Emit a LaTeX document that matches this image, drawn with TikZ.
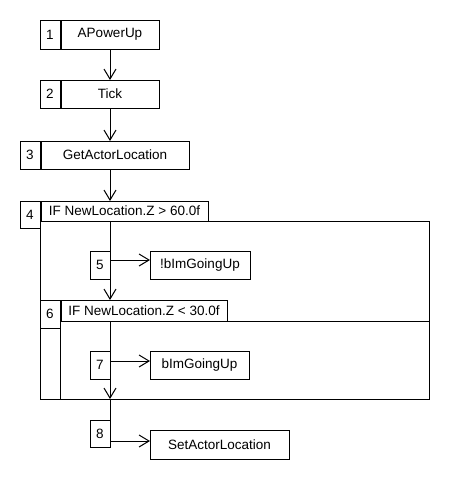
\documentclass[tikz,border=0pt]{standalone}
\usepackage{fontspec}
\setmainfont{Liberation Sans}
\usetikzlibrary{arrows.meta}

\tikzset{
  box/.style 2 args={draw, line width=1pt, anchor=north west, inner sep=0pt,
    outer sep=0pt, minimum width=#1, minimum height=#2},
  flow/.style={line width=1pt, -{Straight Barb[length=10pt, width=12pt]}},
  link/.style={line width=1pt},
}

\begin{document}
\begin{tikzpicture}[x=1pt, y=-1pt, font=\fontsize{13.5}{15}\selectfont]
\useasboundingbox (0,0) rectangle (450,480);

% Steps 1 to 3
\node[box={20pt}{29pt}] (n1) at (40,20) {1};
\node[box={98pt}{29pt}] (l1) at (61,20) {APowerUp};
\node[box={20pt}{28pt}] (n2) at (40,80) {2};
\node[box={98pt}{28pt}] (l2) at (61,80) {Tick};
\node[box={20pt}{28pt}] (n3) at (20,141) {3};
\node[box={148pt}{28pt}] (l3) at (41,141) {GetActorLocation};

% First IF block
\node[box={389pt}{178pt}] (f4) at (40,221) {};
\node[box={20pt}{27pt}] (n4) at (20,201) {4};
\node[box={167pt}{20pt}] (h4) at (41,201) {IF NewLocation.Z > 60.0f};
\node[box={20pt}{28pt}] (n5) at (90,251) {5};
\node[box={100pt}{28pt}] (l5) at (150,251) {!bImGoingUp};

% Second IF block
\node[box={369pt}{78pt}] (f6) at (60,321) {};
\node[box={20pt}{28pt}] (n6) at (40,300) {6};
\node[box={166pt}{21pt}] (h6) at (61,300) {IF NewLocation.Z < 30.0f};
\node[box={20pt}{28pt}] (n7) at (90,351) {7};
\node[box={99pt}{28pt}] (l7) at (150,351) {bImGoingUp};

% Last step
\node[box={20pt}{27pt}] (n8) at (90,420) {8};
\node[box={139pt}{29pt}] (l8) at (150,430) {SetActorLocation};

% Flow
\draw[flow] (l1.south) -- (l2.north);
\draw[flow] (l2.south) -- (l2.south |- l3.north);
\draw[flow] (l2.south |- l3.south) -- (l2.south |- h4.north);
\draw[flow] (n5.east |- h4.south) -- (n5.east |- h6.north);
\draw[flow] ([yshift=-9pt]n5.north east) -- ([yshift=-9pt]l5.north west);
\draw[flow] (n7.east |- h6.south) -- (n7.east |- f6.south);
\draw[flow] ([yshift=-10pt]n7.north east) -- ([yshift=-10pt]l7.north west);
\draw[link] (n7.east |- f6.south) -- (n8.north east);
\coordinate (a8) at ([yshift=-11pt]l8.north west);
\draw[flow] (n8.east |- a8) -- (a8);

\end{tikzpicture}
\end{document}
